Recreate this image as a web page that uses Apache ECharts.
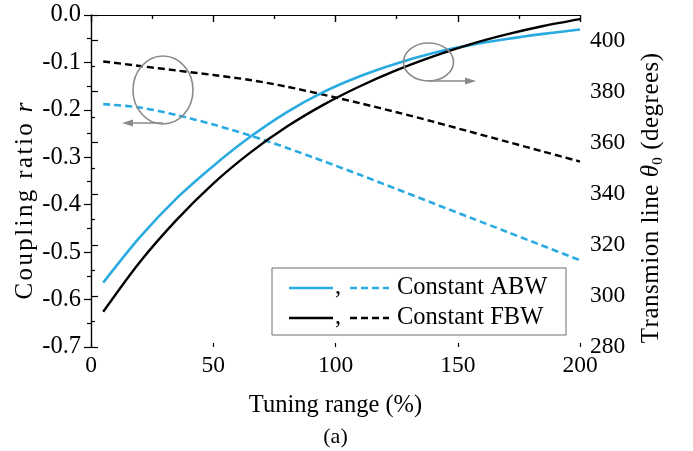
<!DOCTYPE html>
<html>
<head>
<meta charset="utf-8">
<script src="https://cdn.jsdelivr.net/npm/echarts@6/dist/echarts.min.js"></script>
<style>
  html, body { margin: 0; padding: 0; background: #fff; }
  #chart { width: 693px; height: 451px; }
</style>
</head>
<body>
<div id="chart"></div>
<script>
// Tuning range (%) sample points shared by all curves
const tuning = [5, 20, 35, 50, 65, 80, 95, 110, 125, 140, 155, 170, 185, 200];

// Transmission-line electrical length theta_0 (degrees), right axis
const thetaABW = [305.2, 323.0, 338.2, 350.9, 362.2, 371.9, 379.8, 386.0, 391.0, 395.1, 398.2, 400.6, 402.6, 404.3];
const thetaFBW = [293.8, 313.3, 329.8, 344.0, 356.0, 366.2, 374.8, 382.1, 388.4, 393.8, 398.5, 402.4, 405.7, 408.4];

// Coupling ratio r, left axis
const rABW = [-0.188, -0.195, -0.211, -0.231, -0.254, -0.280, -0.308, -0.337, -0.367, -0.397, -0.427, -0.457, -0.487, -0.517];
const rFBW = [-0.098, -0.1075, -0.117, -0.1265, -0.137, -0.151, -0.168, -0.186, -0.205, -0.225, -0.246, -0.267, -0.288, -0.309];

// Axis ticks
const xTicks = { min: 0, max: 200, step: 50 };
const rTicks = { min: -0.7, max: 0, step: 0.1 };
const thetaTicks = { min: 280, max: 410, step: 20 };

const BLUE = '#29abe2';
const BLACK = '#000000';
const GREY = '#8a8a8a';
const FONT = '"Liberation Serif", "Times New Roman", serif';

const pairs = (xs, ys) => xs.map((x, i) => [x, ys[i]]);

// Rich-text run with a little extra tracking between letters
const tracked = (text, style) => text.split('').map(ch => '{' + style + '|' + ch + '}').join('');

const chart = echarts.init(document.getElementById('chart'), null, { renderer: 'canvas' });

const axisLine = { show: true, lineStyle: { color: '#000', width: 1.2 } };
const tickStyle = { color: '#000', width: 1.2 };

const option = {
  animation: false,
  backgroundColor: '#fff',
  textStyle: { fontFamily: FONT },
  grid: { left: 91, right: 113, top: 15, bottom: 104, containLabel: false },
  xAxis: [
    {
      type: 'value', position: 'bottom',
      min: xTicks.min, max: xTicks.max, interval: xTicks.step,
      name: 'Tuning range (%)', nameLocation: 'middle', nameGap: 46,
      nameTextStyle: { fontFamily: FONT, fontSize: 24.5, color: '#000' },
      axisLine: axisLine,
      axisTick: { show: true, inside: false, length: 7, lineStyle: tickStyle },
      minorTick: { show: true, splitNumber: 2, length: 4, lineStyle: tickStyle },
      axisLabel: { fontFamily: FONT, fontSize: 23.5, color: '#000', margin: 7 },
      splitLine: { show: false }
    },
    {
      type: 'value', position: 'bottom',
      min: xTicks.min, max: xTicks.max, interval: xTicks.step,
      axisLine: { show: false },
      axisTick: { show: true, inside: true, length: 4, lineStyle: tickStyle },
      axisLabel: { show: false },
      splitLine: { show: false }
    },
    {
      type: 'value', position: 'top',
      min: xTicks.min, max: xTicks.max, interval: xTicks.step,
      axisLine: axisLine,
      axisTick: { show: true, inside: true, length: 7, lineStyle: tickStyle },
      minorTick: { show: true, splitNumber: 2, length: 4, lineStyle: tickStyle },
      axisLabel: { show: false },
      splitLine: { show: false }
    }
  ],
  yAxis: [
    {
      type: 'value', position: 'left',
      min: rTicks.min, max: rTicks.max, interval: rTicks.step,
      name: tracked('Coupling ratio ', 'c') + tracked('r', 'ci'),
      nameLocation: 'middle', nameGap: 53, nameRotate: 90, nameMoveOverlap: false,
      nameTextStyle: {
        fontFamily: FONT, fontSize: 25, color: '#000',
        padding: [0, 40, 0, 0],
        rich: {
          c: { fontFamily: FONT, fontSize: 25, color: '#000', padding: [0, 1.2, 0, 1.2] },
          ci: { fontFamily: FONT, fontSize: 25, color: '#000', fontStyle: 'italic', padding: [0, 1.2, 0, 1.2] }
        }
      },
      axisLine: axisLine,
      axisTick: { show: true, inside: false, length: 7, lineStyle: tickStyle },
      minorTick: { show: true, splitNumber: 2, length: 4, lineStyle: tickStyle },
      axisLabel: {
        fontFamily: FONT, fontSize: 24.5, color: '#000', margin: 10,
        formatter: v => (Math.abs(v) < 1e-9 ? '0.0' : v.toFixed(1))
      },
      splitLine: { show: false }
    },
    {
      type: 'value', position: 'right',
      min: thetaTicks.min, max: thetaTicks.max, interval: thetaTicks.step,
      name: tracked('Transmion line ', 'n') + tracked('θ', 'i') + '{s|0}' + tracked(' (degrees)', 'n'),
      nameLocation: 'middle', nameGap: 56, nameRotate: 90, nameMoveOverlap: false,
      nameTextStyle: {
        fontFamily: FONT, fontSize: 25, color: '#000',
        padding: [0, 34, 0, 0],
        rich: {
          n: { fontFamily: FONT, fontSize: 25, color: '#000', lineHeight: 30, padding: [0, 0.25, 0, 0.25] },
          i: { fontFamily: FONT, fontSize: 25, color: '#000', fontStyle: 'italic', lineHeight: 30, padding: [0, 0.25, 0, 0.25] },
          s: { fontFamily: FONT, fontSize: 15, color: '#000', verticalAlign: 'bottom', lineHeight: 30, padding: [10, 0.5, 0, 0] }
        }
      },
      axisLine: axisLine,
      axisTick: { show: true, inside: false, length: 7, lineStyle: tickStyle },
      minorTick: { show: true, splitNumber: 2, length: 4, lineStyle: tickStyle },
      axisLabel: {
        fontFamily: FONT, fontSize: 23.5, color: '#000', margin: 10,
        formatter: v => (v > 405 ? '' : String(v))
      },
      splitLine: { show: false }
    }
  ],
  series: [
    {
      name: 'theta ABW', type: 'line', xAxisIndex: 0, yAxisIndex: 1,
      data: pairs(tuning, thetaABW), smooth: 0.3, showSymbol: false,
      lineStyle: { color: BLUE, width: 2.6 }, z: 3
    },
    {
      name: 'theta FBW', type: 'line', xAxisIndex: 0, yAxisIndex: 1,
      data: pairs(tuning, thetaFBW), smooth: 0.3, showSymbol: false,
      lineStyle: { color: BLACK, width: 2.4 }, z: 3
    },
    {
      name: 'r ABW', type: 'line', xAxisIndex: 0, yAxisIndex: 0,
      data: pairs(tuning, rABW), smooth: 0.3, showSymbol: false,
      lineStyle: { color: BLUE, width: 2.6, type: [7, 4] }, z: 2
    },
    {
      name: 'r FBW', type: 'line', xAxisIndex: 0, yAxisIndex: 0,
      data: pairs(tuning, rFBW), smooth: 0.3, showSymbol: false,
      lineStyle: { color: BLACK, width: 2.4, type: [7, 4] }, z: 2
    }
  ],
  graphic: [
    // circle + arrow marking the dashed curves (left axis)
    {
      type: 'ellipse', shape: { cx: 163, cy: 90, rx: 30, ry: 34 },
      style: { fill: 'none', stroke: GREY, lineWidth: 1.6 }, z: 10
    },
    {
      type: 'polyline', shape: { points: [[163, 123], [130, 123]] },
      style: { stroke: GREY, lineWidth: 1.6 }, z: 10
    },
    {
      type: 'polygon', shape: { points: [[122, 123], [133, 119.5], [133, 126.5]] },
      style: { fill: GREY }, z: 10
    },
    // circle + arrow marking the solid curves (right axis)
    {
      type: 'ellipse', shape: { cx: 428.5, cy: 62, rx: 25, ry: 19 },
      style: { fill: 'none', stroke: GREY, lineWidth: 1.6 }, z: 10
    },
    {
      type: 'polyline', shape: { points: [[428, 81], [467, 81]] },
      style: { stroke: GREY, lineWidth: 1.6 }, z: 10
    },
    {
      type: 'polygon', shape: { points: [[476, 81], [465, 77.5], [465, 84.5]] },
      style: { fill: GREY }, z: 10
    },
    // legend box
    {
      type: 'group', z: 20,
      children: [
        { type: 'rect', shape: { x: 272, y: 268, width: 294, height: 67 },
          style: { fill: '#fff', stroke: '#6e6e6e', lineWidth: 1 } },
        { type: 'line', shape: { x1: 289, y1: 288, x2: 333, y2: 288 },
          style: { stroke: BLUE, lineWidth: 2.6 } },
        { type: 'text', x: 335, y: 288,
          style: { text: ',', font: '24.5px ' + FONT, fill: '#000', textVerticalAlign: 'middle' } },
        { type: 'line', shape: { x1: 350, y1: 288, x2: 389, y2: 288 },
          style: { stroke: BLUE, lineWidth: 2.6, lineDash: [7, 4] } },
        { type: 'text', x: 397, y: 288,
          style: { text: 'Constant ABW', font: '24.5px ' + FONT, fill: '#000', textVerticalAlign: 'middle' } },
        { type: 'line', shape: { x1: 289, y1: 318, x2: 333, y2: 318 },
          style: { stroke: BLACK, lineWidth: 2.4 } },
        { type: 'text', x: 335, y: 318,
          style: { text: ',', font: '24.5px ' + FONT, fill: '#000', textVerticalAlign: 'middle' } },
        { type: 'line', shape: { x1: 350, y1: 318, x2: 389, y2: 318 },
          style: { stroke: BLACK, lineWidth: 2.4, lineDash: [7, 4] } },
        { type: 'text', x: 397, y: 318,
          style: { text: 'Constant FBW', font: '24.5px ' + FONT, fill: '#000', textVerticalAlign: 'middle' } }
      ]
    },
    // panel caption
    {
      type: 'text', x: 335.5, y: 437, z: 20,
      style: { text: '(a)', font: '22px ' + FONT, fill: '#000', textAlign: 'center', textVerticalAlign: 'middle' }
    }
  ]
};

chart.setOption(option);
</script>
</body>
</html>
